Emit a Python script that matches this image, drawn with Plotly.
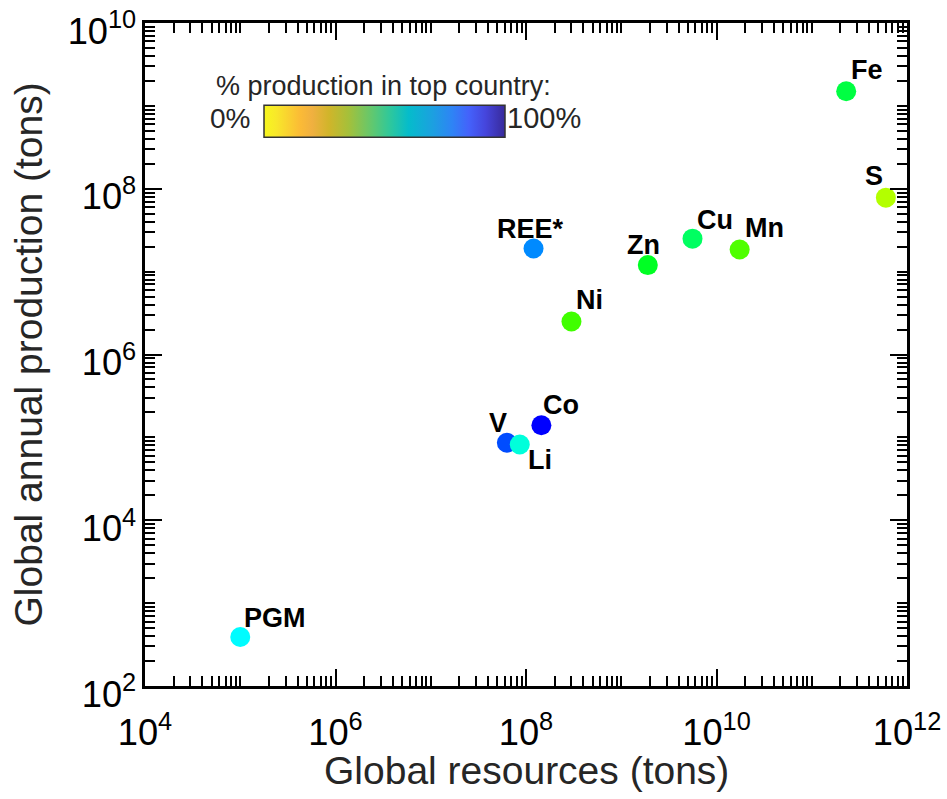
import numpy as np
import plotly.graph_objects as go

# Element / commodity data
elements = ["PGM", "V", "Li", "Co", "REE*", "Ni", "Zn", "Cu", "Mn", "Fe", "S"]
resources_t = [1.0e5, 6.3e7, 8.6e7, 1.45e8, 1.2e8, 3.0e8, 1.9e9, 5.6e9, 1.75e10, 2.3e11, 6.0e11]
production_t = [3.9e2, 8.6e4, 8.2e4, 1.4e5, 1.9e7, 2.5e6, 1.2e7, 2.5e7, 1.85e7, 1.5e9, 7.8e7]
top_country_pct = [67, 90, 62, 100, 82, 25, 38, 46, 23, 42, 10]

# Label offsets in pixels (dx right, dy up) from each marker
label_dx = [35, -9, 20, 20, -3, 18, -4, 22, 25, 21, -12]
label_dy = [19, 20, -15, 20, 20, 22, 20, 19, 21, 21, 22]

FONT = "Arial, Liberation Sans, sans-serif"
TXT = "#262626"

marker_scale = [[0.0, "#ffff00"], [1 / 3, "#00ff00"], [2 / 3, "#00ffff"], [1.0, "#0000ff"]]
bar_scale = [
    [0.00, "#f7f71e"], [0.05, "#f8e82a"], [0.15, "#fbbb36"], [0.20, "#f0b040"],
    [0.27, "#d0b52a"], [0.35, "#a5c03a"], [0.45, "#60c870"], [0.52, "#30c89a"],
    [0.60, "#05bccb"], [0.70, "#1ca0e0"], [0.78, "#2e84f5"], [0.85, "#4462fb"],
    [0.92, "#4545dc"], [1.00, "#382a9a"],
]

fig = go.Figure()

fig.add_trace(go.Scatter(
    x=resources_t, y=production_t, mode="markers",
    marker=dict(size=20, color=top_country_pct, cmin=0, cmax=100,
                colorscale=marker_scale, line=dict(width=0), showscale=False),
    hovertext=elements, showlegend=False,
))

# Colour bar legend for "% production in top country"
L, R, T, B = 145, 907, 23, 686
W, H = R - L, B - T
bar_cx, bar_cy = 384, 122
fig.add_trace(go.Scatter(
    x=[None], y=[None], mode="markers", showlegend=False, hoverinfo="skip",
    marker=dict(color=[0], cmin=0, cmax=100, colorscale=bar_scale, showscale=True,
                colorbar=dict(orientation="h", x=(bar_cx - L) / W, xanchor="center",
                              y=(B - bar_cy) / H, yanchor="middle",
                              len=241, lenmode="pixels", thickness=32, thicknessmode="pixels",
                              outlinewidth=1.5, outlinecolor="#333333",
                              showticklabels=False, ticks="", xpad=0, ypad=0)),
))

annotations = []
for name, xv, yv, dx, dy in zip(elements, resources_t, production_t, label_dx, label_dy):
    annotations.append(dict(
        x=np.log10(xv), y=np.log10(yv), xref="x", yref="y", text=name, showarrow=False,
        xanchor="center", yanchor="middle", xshift=dx, yshift=dy,
        font=dict(family=FONT, size=27, color="black", weight="bold"),
    ))

annotations += [
    dict(x=(383 - L) / W, y=(B - 86) / H, xref="paper", yref="paper",
         text="% production in top country:", showarrow=False,
         xanchor="center", yanchor="middle", font=dict(family=FONT, size=27, color=TXT)),
    dict(x=(252 - L) / W, y=(B - 118) / H, xref="paper", yref="paper",
         text="0%", showarrow=False, xanchor="right", yanchor="middle",
         font=dict(family=FONT, size=28, color=TXT)),
    dict(x=(505 - L) / W, y=(B - 118) / H, xref="paper", yref="paper",
         text="100%", showarrow=False, xanchor="left", yanchor="middle",
         font=dict(family=FONT, size=29, color=TXT)),
    # axis titles
    dict(x=0.5, y=0, xref="paper", yref="paper", yshift=-(770 - B),
         text="Global resources (tons)", showarrow=False,
         xanchor="center", yanchor="middle", font=dict(family=FONT, size=39, color=TXT)),
    dict(x=0, y=0.5, xref="paper", yref="paper", xshift=-(L - 28),
         text="Global annual production (tons)", showarrow=False, textangle=-90,
         xanchor="center", yanchor="middle", font=dict(family=FONT, size=39, color=TXT)),
]

axis_common = dict(
    type="log", dtick=2, exponentformat="power", showgrid=False, zeroline=False,
    showline=True, linewidth=3, linecolor="black", mirror="allticks",
    ticks="inside", ticklen=17, tickwidth=2, tickcolor="black",
    tickfont=dict(family=FONT, size=29, color="black"),
    ticklabeloverflow="allow", automargin=False,
    minor=dict(dtick="D1", ticks="inside", ticklen=10, tickwidth=2,
               tickcolor="black", showgrid=False),
)

fig.update_layout(
    width=947, height=799,
    margin=dict(l=L, r=947 - R, t=T, b=799 - B),
    plot_bgcolor="white", paper_bgcolor="white",
    xaxis=dict(range=[4, 12], ticklabelstandoff=14, **axis_common),
    yaxis=dict(range=[2, 10], ticklabelshift=8, **axis_common),
    annotations=annotations,
)

fig.write_html("out.html")
